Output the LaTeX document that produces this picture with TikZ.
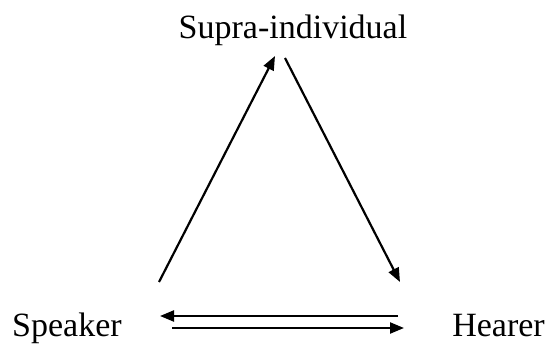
\documentclass[tikz,border=0pt]{standalone}
\usepackage{fontspec}
\setmainfont{Liberation Serif}
\usetikzlibrary{arrows.meta}
\begin{document}
\begin{tikzpicture}[x=1pt,y=-1pt,
  lbl/.style={inner sep=0pt,font=\fontsize{34}{40}\selectfont},
  conn/.style={line width=2.2pt,-{Triangle[length=14pt,width=11pt]}}]
\useasboundingbox (0,0) rectangle (547,347);
\node[lbl,anchor=base] (supra) at (293,39) {Supra-individual};
\node[lbl,anchor=base west] (speaker) at (12,337) {Speaker};
\node[lbl,anchor=base east] (hearer) at (545,337) {Hearer};
\coordinate (a1) at (159,282);
\coordinate (a2) at (275,56);
\coordinate (b1) at (285,58);
\coordinate (b2) at (400,282);
\coordinate (c1) at (398,316);
\coordinate (c2) at (160,316);
\coordinate (d1) at (172,328);
\coordinate (d2) at (404,328);
\draw[conn] (a1) -- (a2);
\draw[conn] (b1) -- (b2);
\draw[conn] (c1) -- (c2);
\draw[conn] (d1) -- (d2);
\end{tikzpicture}
\end{document}
